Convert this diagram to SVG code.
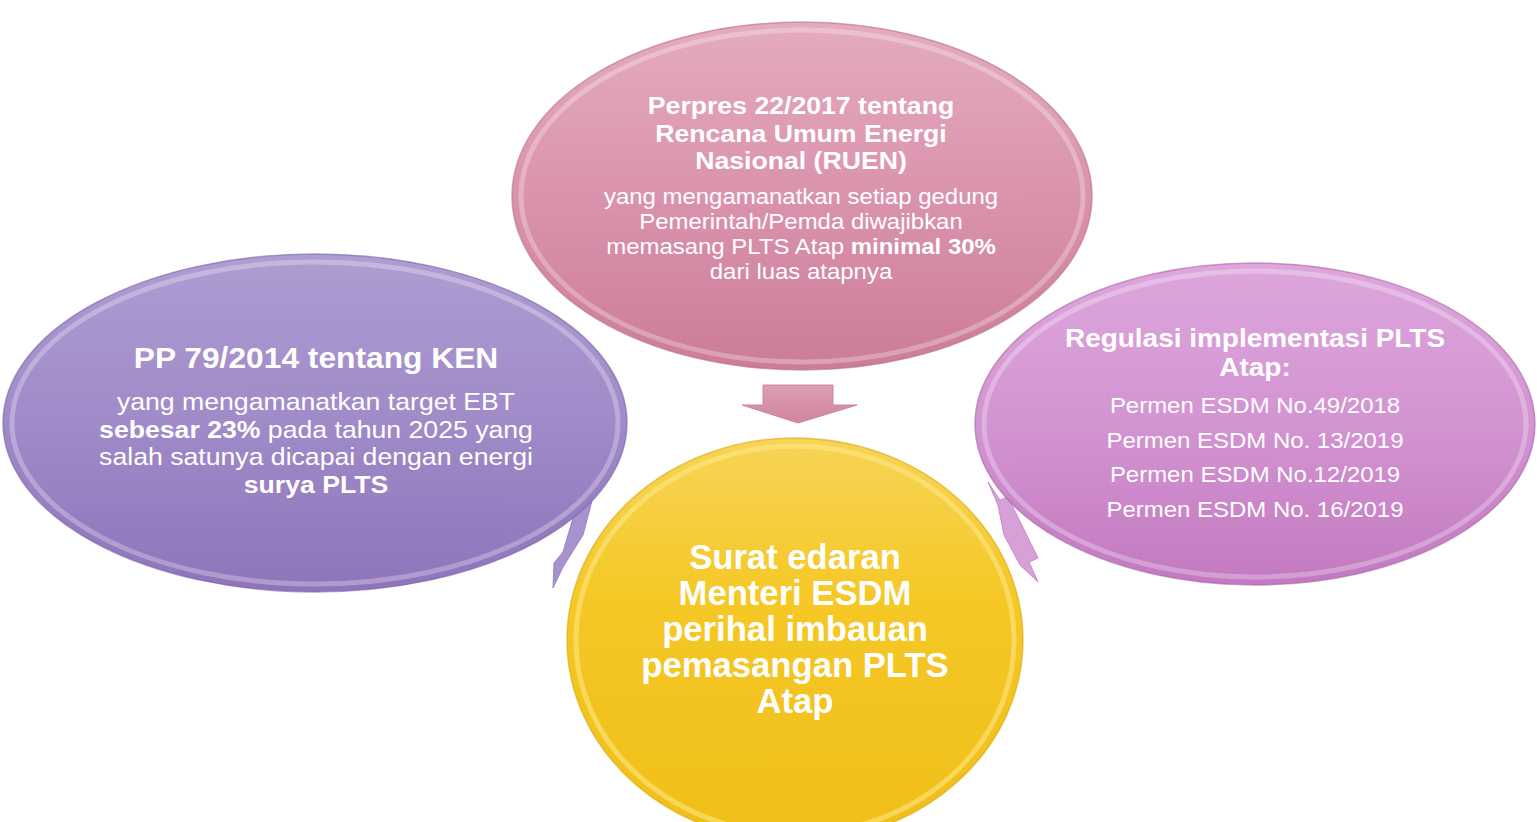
<svg xmlns="http://www.w3.org/2000/svg" width="1537" height="822" viewBox="0 0 1537 822">
<defs>
<linearGradient id="gPink" x1="0" y1="0" x2="0" y2="1"><stop offset="0" stop-color="#e4abbf"/><stop offset="0.5" stop-color="#da93ad"/><stop offset="1" stop-color="#cc7c98"/></linearGradient>
<linearGradient id="gPurple" x1="0" y1="0" x2="0" y2="1"><stop offset="0" stop-color="#ae9cd2"/><stop offset="0.5" stop-color="#a08ac8"/><stop offset="1" stop-color="#8f74ba"/></linearGradient>
<linearGradient id="gOrchid" x1="0" y1="0" x2="0" y2="1"><stop offset="0" stop-color="#dea6dc"/><stop offset="0.5" stop-color="#d394d2"/><stop offset="1" stop-color="#c279c1"/></linearGradient>
<linearGradient id="gYellow" x1="0" y1="0" x2="0" y2="1"><stop offset="0" stop-color="#f7d456"/><stop offset="0.4" stop-color="#f5c826"/><stop offset="1" stop-color="#f0be18"/></linearGradient>
<linearGradient id="gArrow" x1="0" y1="0" x2="0" y2="1"><stop offset="0" stop-color="#dc9fb4"/><stop offset="1" stop-color="#d084a0"/></linearGradient>
</defs>
<style>
.t{fill:#ffffff;font-family:"Liberation Sans",Arial,sans-serif;text-anchor:middle}
.b{font-weight:bold}
.rim{fill:none;stroke:#ffffff;stroke-opacity:0.28;stroke-width:5}
.edge{stroke-width:1.5;stroke-opacity:0.6}
</style>
<g id="connectors">
<polygon points="763,385 833,385 833,405 857,405 798,423 742,405 763,405" fill="url(#gArrow)" stroke="#c8869d" stroke-width="1"/>
<polygon points="573,500 593,497 583,535 563,567 553,588 554,563 563,552 573,518" fill="#a792d0" stroke="#9a84c4" stroke-width="1"/>
<polygon points="988,482 1000,500 1008,497 1038,558 1029,562 1038,582 1020,565 1004,535 998,505" fill="#d7a0d6" stroke="#c88ac7" stroke-width="1"/>
</g>
<g id="node-top">
<ellipse cx="802" cy="196" rx="290" ry="174" fill="url(#gPink)" class="edge" stroke="#b86f8a"/>
<ellipse cx="802" cy="196" rx="281" ry="166" class="rim"/>
<g transform="translate(801 0) scale(1.11 1)">
<text class="t b" font-size="24"><tspan x="0" y="114">Perpres 22/2017 tentang</tspan><tspan x="0" y="142">Rencana Umum Energi</tspan><tspan x="0" y="169">Nasional (RUEN)</tspan></text>
<text class="t" font-size="21.6"><tspan x="0" y="204">yang mengamanatkan setiap gedung</tspan><tspan x="0" y="229">Pemerintah/Pemda diwajibkan</tspan><tspan x="0" y="254">memasang PLTS Atap <tspan class="b">minimal 30%</tspan></tspan><tspan x="0" y="279">dari luas atapnya</tspan></text>
</g>
</g>
<g id="node-left">
<ellipse cx="315" cy="423" rx="312" ry="169" fill="url(#gPurple)" class="edge" stroke="#7d63a8"/>
<ellipse cx="315" cy="423" rx="303" ry="161" class="rim"/>
<g transform="translate(316 0) scale(1.11 1)">
<text class="t b" font-size="28.6" x="0" y="368">PP 79/2014 tentang KEN</text>
<text class="t" font-size="24"><tspan x="0" y="410">yang mengamanatkan target EBT</tspan><tspan x="0" y="438"><tspan class="b">sebesar 23%</tspan> pada tahun 2025 yang</tspan><tspan x="0" y="465">salah satunya dicapai dengan energi</tspan><tspan x="0" y="493" class="b">surya PLTS</tspan></text>
</g>
</g>
<g id="node-right">
<ellipse cx="1255" cy="424" rx="280" ry="161" fill="url(#gOrchid)" class="edge" stroke="#a865a7"/>
<ellipse cx="1255" cy="424" rx="271" ry="153" class="rim"/>
<g transform="translate(1255 0) scale(1.11 1)">
<text class="t b" font-size="25.2"><tspan x="0" y="347">Regulasi implementasi PLTS</tspan><tspan x="0" y="376">Atap:</tspan></text>
<text class="t" font-size="21.6"><tspan x="0" y="413">Permen ESDM No.49/2018</tspan><tspan x="0" y="448">Permen ESDM No. 13/2019</tspan><tspan x="0" y="482">Permen ESDM No.12/2019</tspan><tspan x="0" y="517">Permen ESDM No. 16/2019</tspan></text>
</g>
</g>
<g id="node-bottom">
<ellipse cx="795" cy="640" rx="228" ry="202" fill="url(#gYellow)" class="edge" stroke="#d9a90e"/>
<ellipse cx="795" cy="640" rx="219" ry="194" fill="none" stroke="#fde98c" stroke-opacity="0.55" stroke-width="5"/>
<g transform="translate(795 0) scale(0.99 1)">
<text class="t b" font-size="35"><tspan x="0" y="569">Surat edaran</tspan><tspan x="0" y="605">Menteri ESDM</tspan><tspan x="0" y="641">perihal imbauan</tspan><tspan x="0" y="677">pemasangan PLTS</tspan><tspan x="0" y="713">Atap</tspan></text>
</g>
</g>
</svg>
